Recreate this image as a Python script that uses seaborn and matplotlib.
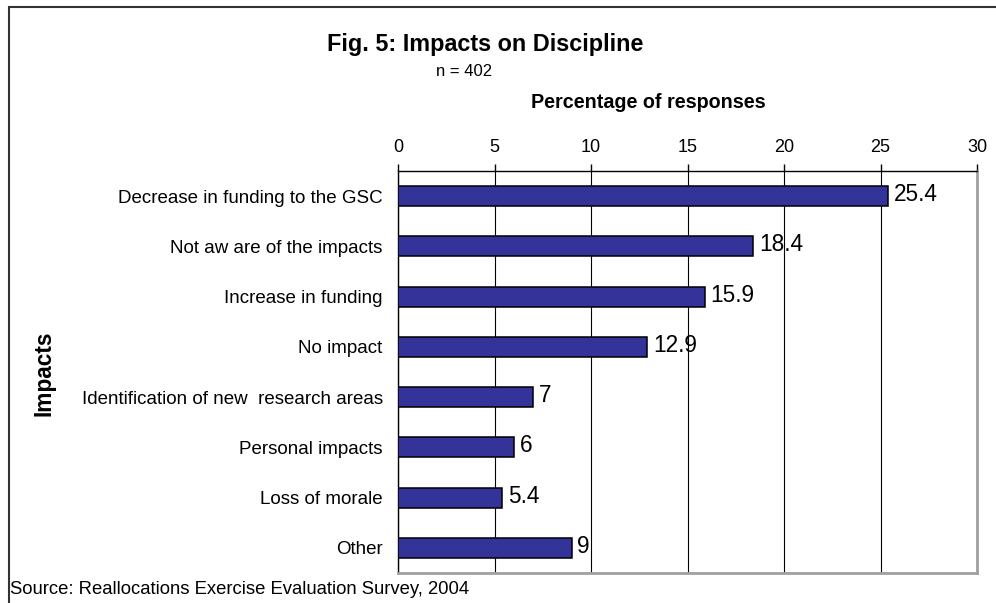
import matplotlib
matplotlib.use("Agg")
import matplotlib.pyplot as plt
import matplotlib.patches as mpatches
import seaborn as sns
import pandas as pd
import numpy as np

categories = ["Decrease in funding to the GSC", "Not aw are of the impacts", "Increase in funding",
              "No impact", "Identification of new  research areas", "Personal impacts",
              "Loss of morale", "Other"]
values = [25.4, 18.4, 15.9, 12.9, 7, 6, 5.4, 9]
value_labels = ["25.4", "18.4", "15.9", "12.9", "7", "6", "5.4", "9"]
x_ticks = [0, 5, 10, 15, 20, 25, 30]

sns.set_style("white")
plt.rcParams['font.family'] = ['Liberation Sans', 'DejaVu Sans']
plt.rcParams['text.color'] = 'black'
plt.rcParams['axes.labelcolor'] = 'black'
plt.rcParams['xtick.color'] = 'black'
plt.rcParams['ytick.color'] = 'black'

W, H = 996, 603
fig = plt.figure(figsize=(W / 100, H / 100), dpi=100)
ax = fig.add_axes([398 / W, (H - 573) / H, (977 - 398) / W, (573 - 171) / H])

df = pd.DataFrame({"cat": categories, "val": values})
sns.barplot(data=df, x="val", y="cat", ax=ax, color="#333399", saturation=1,
            width=0.4, edgecolor="black", linewidth=1.1, zorder=3)

ax.set_xlim(0, 30)
ax.set_ylim(7.5, -0.5)
ax.xaxis.tick_top()
ax.set_xticks(x_ticks)
ax.set_xticklabels([str(t) for t in x_ticks], fontsize=13)
ax.tick_params(axis="x", which="major", direction="out", length=5, width=1, color="black", pad=6)
ax.grid(axis="x", color="black", linewidth=0.8, zorder=0)
ax.set_axisbelow(True)

ax.set_yticks(range(len(categories)))
ax.set_yticklabels(categories, fontsize=13.5)
ax.tick_params(axis="y", which="major", length=0, pad=11)
ax.set_yticks(np.arange(-0.5, len(categories), 1), minor=True)
ax.tick_params(axis="y", which="minor", direction="out", length=5, width=1, color="black")

ax.set_xlabel("")
ax.set_ylabel("")

for s in ["top", "left"]:
    ax.spines[s].set_color("black")
    ax.spines[s].set_linewidth(1)
for s in ["right", "bottom"]:
    ax.spines[s].set_color("#a0a0a0")
    ax.spines[s].set_linewidth(2)

for i, (v, lab) in enumerate(zip(values, value_labels)):
    ax.text(v + 0.3, i - 0.03, lab, fontsize=16.3, ha="left", va="center", color="black", zorder=4)

fig.text(485 / W, 1 - 45 / H, "Fig. 5: Impacts on Discipline", fontsize=16.8, fontweight="bold",
         ha="center", va="center")
fig.text(436 / W, 1 - 72 / H, "n = 402", fontsize=12, ha="left", va="center")
fig.text(648 / W, 1 - 102 / H, "Percentage of responses", fontsize=14.2, fontweight="bold",
         ha="center", va="center")
fig.text(44 / W, 1 - 373 / H, "Impacts", fontsize=16.3, fontweight="bold", rotation=90,
         ha="center", va="center")
fig.text(10 / W, 1 - 590 / H, "Source: Reallocations Exercise Evaluation Survey, 2004", fontsize=13.3,
         ha="left", va="center")

border = mpatches.Rectangle((9 / W, -0.1), 1.2, 1 - 7.5 / H + 0.1, transform=fig.transFigure,
                            fill=False, edgecolor="#333333", linewidth=1.5, clip_on=False)
fig.patches.append(border)

fig.savefig("out.png", dpi=100)
